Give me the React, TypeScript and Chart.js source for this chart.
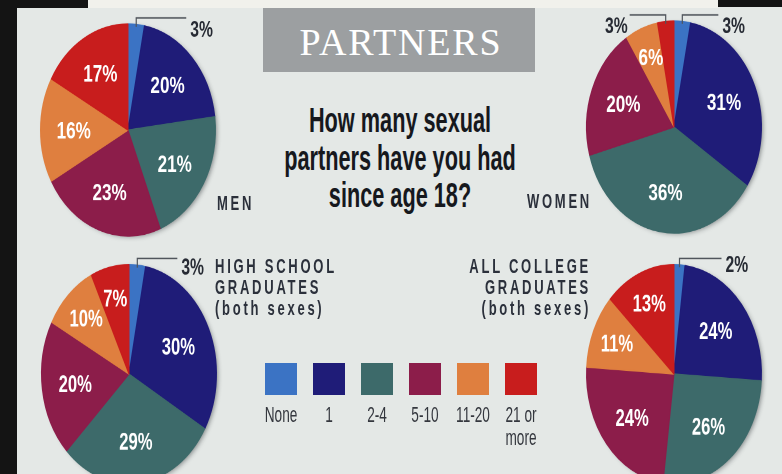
import React, { useEffect, useRef } from "react";
import { Chart, registerables } from "chart.js";

Chart.register(...registerables);

// ---------------- data ----------------
const categories = ["None", "1", "2-4", "5-10", "11-20", "21 or more"];
const legendLines = [["None"], ["1"], ["2-4"], ["5-10"], ["11-20"], ["21 or", "more"]];
const colors = ["#3b73c4", "#1f1c78", "#3d6a6a", "#8c1d4a", "#df7f3f", "#c81d1d"];
const menValues = [3, 20, 21, 23, 16, 17];
const womenValues = [3, 31, 36, 20, 6, 3];
const highSchoolValues = [3, 30, 29, 20, 10, 7];
const collegeValues = [2, 24, 26, 24, 11, 13];
const titleText = "PARTNERS";
const questionLines = ["How many sexual", "partners have you had", "since age 18?"];
const menLabel = ["MEN"];
const womenLabel = ["WOMEN"];
const highSchoolLabel = ["HIGH SCHOOL", "GRADUATES", "(both sexes)"];
const collegeLabel = ["ALL COLLEGE", "GRADUATES", "(both sexes)"];

// ---------------- layout ----------------
const R = 88;
const PAD = 16;
const SANS = "'Liberation Sans', Arial, sans-serif";
const SERIF = "'Liberation Serif', 'Times New Roman', serif";

const pieLabelPlugin = {
  id: "pieLabels",
  beforeDatasetsDraw(chart: any) {
    const meta = chart.getDatasetMeta(0);
    const el = meta.data[0];
    if (!el) return;
    const { x, y, outerRadius } = el.getProps(["x", "y", "outerRadius"], true);
    const ctx = chart.ctx;
    ctx.save();
    ctx.shadowColor = "rgba(40,45,50,0.5)";
    ctx.shadowBlur = 9;
    ctx.shadowOffsetX = 5;
    ctx.shadowOffsetY = 3;
    ctx.fillStyle = "#555";
    ctx.beginPath();
    ctx.arc(x, y, outerRadius - 1, 0, Math.PI * 2);
    ctx.fill();
    ctx.restore();
  },
  afterDatasetsDraw(chart: any, _args: any, opts: any) {
    const ctx = chart.ctx;
    const meta = chart.getDatasetMeta(0);
    const values: number[] = chart.data.datasets[0].data;
    meta.data.forEach((el: any, i: number) => {
      const v = values[i];
      const { x, y, startAngle, endAngle, outerRadius } = el.getProps(
        ["x", "y", "startAngle", "endAngle", "outerRadius"],
        true
      );
      const mid = (startAngle + endAngle) / 2;
      const txt = v + "%";
      if (v <= 3) {
        const ex = x + Math.cos(mid) * outerRadius;
        const ey = y + Math.sin(mid) * outerRadius;
        const lineY = y - outerRadius - opts.rise;
        const dir = Math.cos(mid) >= 0 ? 1 : -1;
        const endX = ex + dir * opts.leaderLength;
        ctx.save();
        ctx.strokeStyle = "#50555c";
        ctx.lineWidth = 1.2;
        ctx.beginPath();
        ctx.moveTo(ex, ey + 2);
        ctx.lineTo(ex, lineY);
        ctx.lineTo(endX, lineY);
        ctx.stroke();
        ctx.font = `bold 18px ${SANS}`;
        ctx.fillStyle = "#262a33";
        ctx.textBaseline = "alphabetic";
        ctx.textAlign = dir > 0 ? "left" : "right";
        ctx.translate(endX + dir * (dir > 0 ? 4 : 2), lineY + opts.textDrop);
        ctx.scale(0.87, 1);
        ctx.fillText(txt, 0, 0);
        ctx.restore();
      } else {
        const rr = outerRadius * (v < 14 ? 0.71 : 0.62);
        const lx = x + Math.cos(mid) * rr;
        const ly = y + Math.sin(mid) * rr;
        ctx.save();
        ctx.font = `bold 19px ${SANS}`;
        ctx.fillStyle = "#ffffff";
        ctx.textAlign = "center";
        ctx.textBaseline = "alphabetic";
        ctx.translate(lx, ly + (0.716 * 19) / 2);
        ctx.scale(0.9 * opts.textSquash, 1);
        ctx.fillText(txt, 0, 0);
        ctx.restore();
      }
    });
  },
};

type PieProps = { values: number[]; cx: number; cy: number; k: number; leader: number; drop: number };

function Pie({ values, cx, cy, k, leader, drop }: PieProps) {
  const ref = useRef<HTMLCanvasElement>(null);
  useEffect(() => {
    if (!ref.current) return;
    const chart = new Chart(ref.current, {
      type: "pie",
      data: {
        labels: categories,
        datasets: [
          {
            data: values,
            backgroundColor: colors,
            borderColor: colors,
            borderWidth: 1,
          },
        ],
      },
      options: {
        responsive: false,
        animation: false,
        devicePixelRatio: 2,
        events: [],
        layout: { padding: PAD },
        plugins: {
          legend: { display: false },
          tooltip: { enabled: false },
          // @ts-ignore
          pieLabels: { leaderLength: leader, rise: 5, textDrop: drop, textSquash: (107 / 88) / k },
        },
      } as any,
      plugins: [pieLabelPlugin as any],
    });
    return () => chart.destroy();
  }, []);
  const W = 2 * (R + PAD);
  return (
    <canvas
      ref={ref}
      width={W}
      height={W}
      style={{
        position: "absolute",
        left: cx - W / 2,
        top: cy - (W / 2) * k,
        width: W,
        height: W * k,
      }}
    />
  );
}

type TxtProps = {
  x: number;
  baseline: number;
  size: number;
  text: string;
  align?: "left" | "center" | "right";
  sx?: number;
  weight?: string | number;
  color?: string;
  family?: string;
  spacing?: number;
  asc?: number;
};

function Txt({
  x,
  baseline,
  size,
  text,
  align = "left",
  sx = 0.62,
  weight = "normal",
  color = "#2a2e38",
  family = SANS,
  spacing = 0,
  asc = 0.8465,
}: TxtProps) {
  const origin = align === "left" ? "left center" : align === "right" ? "right center" : "center center";
  const tr =
    align === "left"
      ? `scaleX(${sx})`
      : align === "right"
      ? `translateX(-100%) scaleX(${sx})`
      : `translateX(-50%) scaleX(${sx})`;
  const shift = align === "right" ? spacing * sx : align === "center" ? (spacing * sx) / 2 : 0;
  return (
    <div
      style={{
        position: "absolute",
        left: x + shift,
        top: baseline - asc * size,
        fontSize: size,
        lineHeight: `${size}px`,
        fontFamily: family,
        fontWeight: weight as any,
        color,
        letterSpacing: spacing,
        whiteSpace: "nowrap",
        transform: tr,
        transformOrigin: origin,
      }}
    >
      {text}
    </div>
  );
}

export default function App() {
  const capsStyle = { size: 21, weight: "bold", spacing: 4.4, color: "#2b303b" };
  const KT = 107 / 88;
  const KB = 1.25;
  return (
    <div
      style={{
        position: "absolute",
        left: 0,
        top: 0,
        width: 782,
        height: 474,
        overflow: "hidden",
        background: "#e4e8e6",
      }}
    >
      {/* scan borders */}
      <div style={{ position: "absolute", left: 88, top: 0, width: 630, height: 8, background: "#f1f1ec" }} />
      <div style={{ position: "absolute", left: 0, top: 0, width: 88, height: 8, background: "#141414" }} />
      <div style={{ position: "absolute", left: 0, top: 0, width: 17, height: 474, background: "#141414" }} />
      <div style={{ position: "absolute", left: 718, top: 0, width: 64, height: 7, background: "#141414" }} />

      <Pie values={menValues} cx={128} cy={130} k={KT} leader={50} drop={15.6} />
      <Pie values={womenValues} cx={674} cy={127} k={KT} leader={36} drop={14.8} />
      <Pie values={highSchoolValues} cx={129} cy={374} k={KB} leader={40} drop={12.8} />
      <Pie values={collegeValues} cx={674} cy={374} k={KB} leader={42} drop={11.2} />

      {/* title box */}
      <div style={{ position: "absolute", left: 263, top: 8, width: 272, height: 64, background: "#9c9fa1" }} />
      <Txt x={400} baseline={55} size={38} text={titleText} align="center" sx={1} family={SERIF} color="#ffffff" spacing={1.8} asc={0.8375} />

      {questionLines.map((t, i) => (
        <Txt key={t} x={400} baseline={132 + i * 37.5} size={35} text={t} align="center" weight="bold" color="#16181d" />
      ))}

      {menLabel.map((t) => (
        <Txt key={t} x={217} baseline={210} text={t} {...capsStyle} />
      ))}
      {womenLabel.map((t) => (
        <Txt key={t} x={527} baseline={208} text={t} {...capsStyle} />
      ))}
      {highSchoolLabel.map((t, i) => (
        <Txt key={t} x={215} baseline={273 + i * 21} text={t} {...capsStyle} />
      ))}
      {collegeLabel.map((t, i) => (
        <Txt key={t} x={588} baseline={273 + i * 21} text={t} align="right" {...capsStyle} />
      ))}

      {/* legend */}
      {categories.map((c, i) => (
        <div
          key={c}
          style={{
            position: "absolute",
            left: 265 + i * 48,
            top: 363,
            width: 32,
            height: 32,
            background: colors[i],
          }}
        />
      ))}
      {legendLines.map((lines, i) =>
        lines.map((t, j) => (
          <Txt key={t} x={281 + i * 48} baseline={423 + j * 23} size={22} text={t} align="center" color="#34373e" />
        ))
      )}
    </div>
  );
}
